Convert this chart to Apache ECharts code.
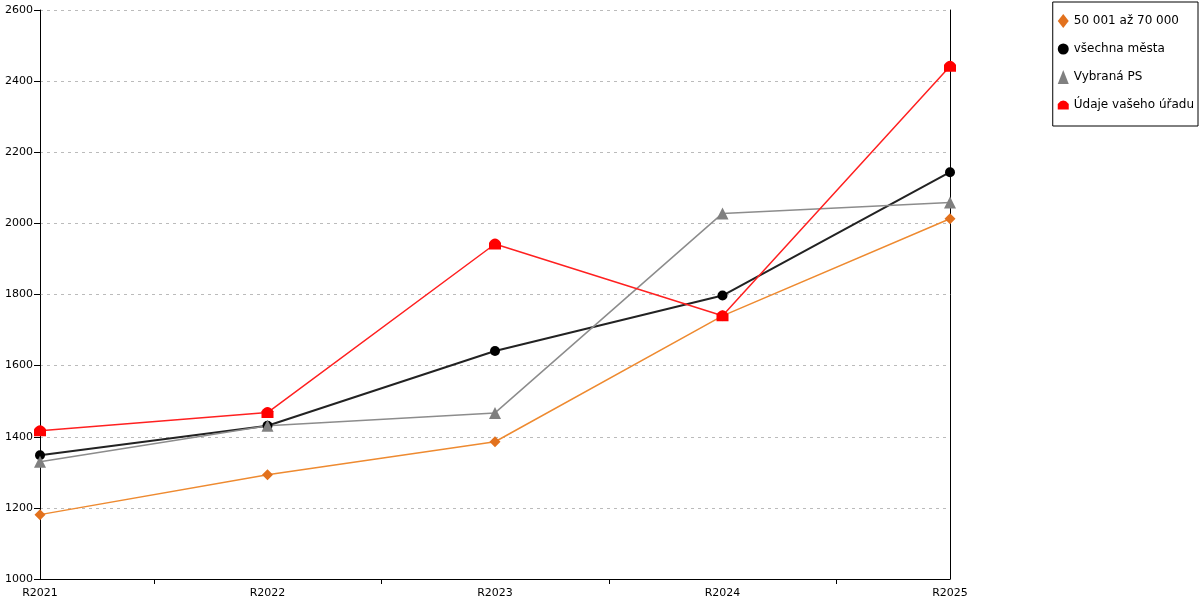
<!DOCTYPE html>
<html>
<head>
<meta charset="utf-8">
<title>chart</title>
<script src="https://cdn.jsdelivr.net/npm/echarts@6/dist/echarts.min.js"></script>
<style>
  html, body { margin: 0; padding: 0; background: #fff; }
  #main { width: 1200px; height: 600px; }
</style>
</head>
<body>
<div id="main"></div>
<script>
// kategorie osy x
const categories = ['R2021', 'R2022', 'R2023', 'R2024', 'R2025'];

// hodnoty řad
const velikostniSkupina = [1181, 1293, 1386, 1740, 2013];
const vsechnaMesta = [1348, 1431, 1641, 1797, 2144];
const vybranaPS = [1330, 1431, 1467, 2028, 2059];
const udajeUradu = [1417, 1468, 1942, 1740, 2442];

const seriesNames = ['50 001 až 70 000', 'všechna města', 'Vybraná PS', 'Údaje vašeho úřadu'];

// osa y
const yMin = 1000;
const yMax = 2600;
const yStep = 200;

const housePath = 'path://M0,10 L0,5 Q5,-1 10,5 L10,10 Z';

const chart = echarts.init(document.getElementById('main'));

// převod na body [index, hodnota]
function toPoints(values) {
  return values.map((v, i) => [i, v]);
}

const option = {
  backgroundColor: '#fff',
  animation: false,
  textStyle: { fontFamily: 'DejaVu Sans' },
  grid: {
    left: 40,
    right: 250,
    top: 10,
    bottom: 21,
    containLabel: false
  },
  legend: {
    orient: 'vertical',
    right: 2,
    top: 2,
    padding: [12, 4, 15, 5],
    borderColor: '#000',
    borderWidth: 1,
    borderRadius: 0,
    itemGap: 15,
    itemWidth: 11,
    itemHeight: 14,
    textStyle: { fontSize: 12, color: '#000', fontFamily: 'DejaVu Sans' },
    data: [
      { name: seriesNames[0], icon: 'diamond' },
      { name: seriesNames[1], icon: 'circle' },
      { name: seriesNames[2], icon: 'triangle' },
      { name: seriesNames[3], icon: housePath }
    ]
  },
  xAxis: {
    type: 'value',
    min: 0,
    max: categories.length - 1,
    interval: 1,
    axisLine: { show: true, lineStyle: { color: '#000', width: 1 } },
    axisTick: {
      show: true,
      length: 5,
      customValues: [0.5, 1.5, 2.5, 3.5],
      lineStyle: { color: '#000' }
    },
    axisLabel: {
      customValues: [0, 1, 2, 3, 4],
      color: '#000',
      fontSize: 11,
      margin: 9,
      formatter: v => categories[Math.round(v)]
    },
    splitLine: { show: false }
  },
  yAxis: [
    {
      type: 'value',
      min: yMin,
      max: yMax,
      interval: yStep,
      axisLine: { show: true, lineStyle: { color: '#000', width: 1 } },
      axisTick: { show: true, length: 6, lineStyle: { color: '#000' } },
      axisLabel: { color: '#000', fontSize: 11, margin: 7, formatter: v => String(v) },
      splitLine: { show: true, lineStyle: { color: '#bbb', type: [3, 4], width: 1 } }
    },
    {
      type: 'value',
      position: 'right',
      min: yMin,
      max: yMax,
      interval: yStep,
      axisLine: { show: true, lineStyle: { color: '#000', width: 1 } },
      axisTick: { show: false },
      axisLabel: { show: false },
      splitLine: { show: false }
    }
  ],
  series: [
    {
      name: seriesNames[0],
      type: 'line',
      data: toPoints(velikostniSkupina),
      symbol: 'diamond',
      symbolSize: 11,
      itemStyle: { color: '#E2711D' },
      lineStyle: { color: '#EE8A30', width: 1.5 }
    },
    {
      name: seriesNames[1],
      type: 'line',
      data: toPoints(vsechnaMesta),
      symbol: 'circle',
      symbolSize: 10,
      itemStyle: { color: '#000' },
      lineStyle: { color: '#222', width: 2 }
    },
    {
      name: seriesNames[2],
      type: 'line',
      data: toPoints(vybranaPS),
      symbol: 'triangle',
      symbolSize: 12,
      itemStyle: { color: '#808080' },
      lineStyle: { color: '#8c8c8c', width: 1.5 }
    },
    {
      name: seriesNames[3],
      type: 'line',
      data: toPoints(udajeUradu),
      symbol: housePath,
      symbolSize: [12, 11],
      itemStyle: { color: '#FF0000' },
      lineStyle: { color: '#FF2020', width: 1.5 }
    }
  ]
};

chart.setOption(option);
</script>
</body>
</html>
